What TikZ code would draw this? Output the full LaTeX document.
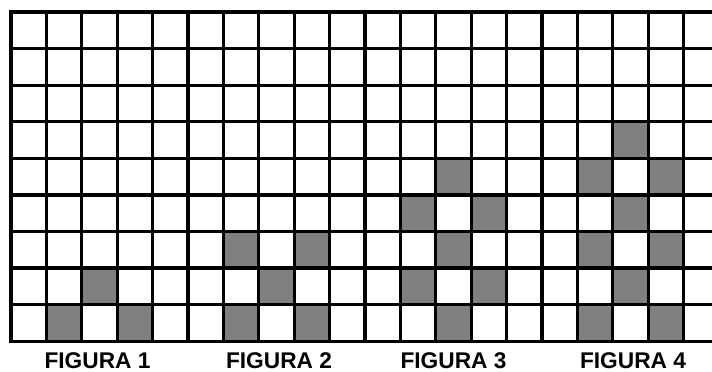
\documentclass[tikz,border=0pt]{standalone}
\usepackage{fontspec}
\setmainfont{Liberation Sans}
\definecolor{cellgray}{HTML}{808080}
\begin{document}
\begin{tikzpicture}[x=1pt,y=-1pt,
  gridline/.style={line width=3.3pt, black, line cap=rect},
  cellfill/.style={fill=cellgray},
  lab/.style={font=\fontsize{22.7}{26}\selectfont\bfseries, anchor=base, inner sep=0pt}]
\def\xo{11}\def\yo{12}\def\dx{35.4}\def\dy{36.59}
\useasboundingbox (0,0) rectangle (712,372);
\fill[white] (0,0) rectangle (712,372);
\begin{scope}
\clip (0,0) rectangle (712,372);
% gray cells: column / row (row 0 = bottom)
\foreach \c/\r in {1/0,3/0,2/1,
                   6/0,8/0,7/1,6/2,8/2,
                   12/0,11/1,13/1,12/2,11/3,13/3,12/4,
                   16/0,18/0,17/1,16/2,18/2,17/3,16/4,18/4,17/5}
  \fill[cellfill] ({\xo+\dx*\c},{\yo+\dy*(8-\r)}) rectangle ++(\dx,\dy);
\foreach \i in {0,...,20}
  \draw[gridline] ({\xo+\dx*\i},\yo) -- ({\xo+\dx*\i},{\yo+9*\dy});
\foreach \j in {0,...,9}
  \draw[gridline] (\xo,{\yo+\dy*\j}) -- (730,{\yo+\dy*\j});
\end{scope}
\node[lab] (f1) at (97.5,368.8) {FIGURA 1};
\node[lab] (f2) at (279,368.8) {FIGURA 2};
\node[lab] (f3) at (453.5,368.8) {FIGURA 3};
\node[lab] (f4) at (633,368.8) {FIGURA 4};
\end{tikzpicture}
\end{document}
